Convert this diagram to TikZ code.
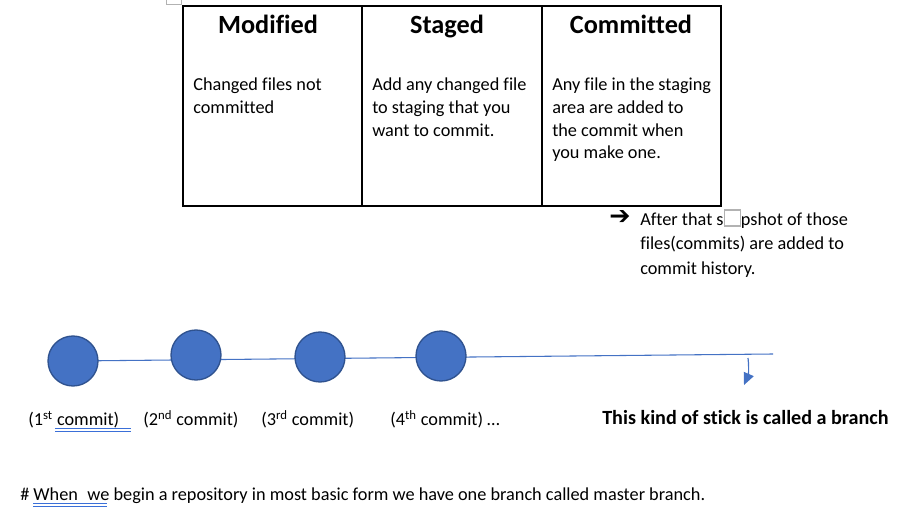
\documentclass[tikz,border=0pt]{standalone}
\usepackage{fontspec}
\setmainfont{Carlito}[Ligatures=NoCommon]
\newfontfamily\symfont{DejaVu Sans}
\usetikzlibrary{arrows.meta,backgrounds}
\definecolor{cfill}{HTML}{4472C4}
\definecolor{cdraw}{HTML}{2F528F}
\definecolor{uline}{HTML}{3A6FD8}
\tikzset{
  head/.style={font=\fontsize{19.7}{22}\selectfont\bfseries, inner sep=0pt, anchor=base},
  body/.style={font=\fontsize{13.7}{17}\selectfont, inner sep=0pt, anchor=north west, align=left},
  commit/.style={circle, fill=cfill, draw=cdraw, line width=1pt, minimum size=37.5pt, inner sep=0pt},
  lbl/.style={font=\fontsize{13.7}{17}\selectfont, inner sep=0pt, anchor=base west},
  branchline/.style={draw=cfill, line width=0.8pt},
}
\newcommand{\missbox}{{\color{gray!60}\setlength\fboxsep{0pt}\setlength\fboxrule{1pt}\fbox{\rule{0pt}{11pt}\hspace{11pt}}}}
\begin{document}
\begin{tikzpicture}[x=0.75pt,y=-0.75pt]
\useasboundingbox (0,0) rectangle (902,530);
% table move handle
\draw[gray!60, fill=white] (166,-8) rectangle (181,4);
% table
\draw[line width=0.8pt] (183,6) rectangle (721,206);
\draw[line width=0.8pt] (362,6) -- (362,206);
\draw[line width=0.8pt] (542,6) -- (542,206);
\node[head] (h1) at (268,34) {Modified};
\node[head] (h2) at (447,34) {Staged};
\node[head] (h3) at (631,34) {Committed};
\node[body] (b1) at (193,78) {Changed files not\\committed};
\node[body] (b2) at (372,78) {Add any changed file\\to staging that you\\want to commit.};
\node[body] (b3) at (552,78) {Any file in the staging\\area are added to\\the commit when\\you make one.};
% arrow note
\node[inner sep=0pt, anchor=base west, font=\symfont\fontsize{19}{20}\selectfont] (arr) at (609,225) {➔};
\node[body, font=\fontsize{13.7}{18.4}\selectfont] (note) at (640,209) {After that s\missbox pshot of those\\files(commits) are added to\\commit history.};
% branch
\coordinate (bend) at (773,354);
\node[commit] (c1) at (73,361) {};
\node[commit] (c2) at (196,355) {};
\node[commit] (c3) at (320,357) {};
\node[commit] (c4) at (441,356) {};
\begin{scope}[on background layer]
\path[branchline] (c1.center) -- (bend);
\end{scope}
\coordinate (as) at (748,358);
\coordinate (ae) at (744,385);
\draw[cfill, line width=0.9pt, -{Triangle[length=9pt,width=8pt]}] (as) to[bend left=15] (ae);
% labels
\node[lbl] (l1) at (28,426) {(1\textsuperscript{st} commit)\hspace{9pt}};
\node[lbl] (l2) at (143,426) {(2\textsuperscript{nd} commit)};
\node[lbl] (l3) at (261,426) {(3\textsuperscript{rd} commit)};
\node[lbl] (l4) at (390,426) {(4\textsuperscript{th} commit) \dots};
\draw[uline, line width=0.6pt] (55,428.5) -- (131,428.5) (55,431) -- (131,431);
\node[lbl, font=\fontsize{15.1}{17}\selectfont\bfseries] (br) at (602,424) {This kind of stick is called a branch};
\node[lbl] (bot) at (20,500) {\# When\hspace{4pt} we begin a repository in most basic form we have one branch called master branch.};
\draw[uline, line width=0.6pt] (33,503.5) -- (107,503.5) (33,506) -- (107,506);
\end{tikzpicture}
\end{document}
